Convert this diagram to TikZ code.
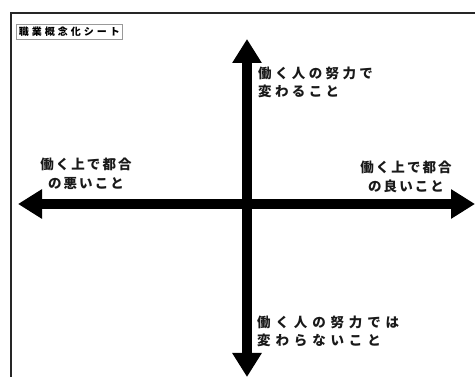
\documentclass[tikz,border=0pt]{standalone}
\usepackage{fontspec}
\newfontfamily\jpside[LetterSpace=15]{Noto Sans CJK JP}
\newfontfamily\jptop[LetterSpace=25]{Noto Sans CJK JP}
\newfontfamily\jpbot[LetterSpace=36]{Noto Sans CJK JP}
\newfontfamily\jpt[LetterSpace=30]{Noto Sans CJK JP}
\usetikzlibrary{arrows.meta}
\tikzset{
  axis/.style={line width=10pt, draw=black,
    {Triangle[width=28pt,length=24pt]}-{Triangle[width=28pt,length=24pt]}},
  lbl/.style={inner sep=0pt, text=black!90},
  titlebox/.style={draw=black!40, line width=0.6pt, font=\jpt\fontsize{10}{11}\selectfont\bfseries, inner xsep=2.5pt, inner ysep=2.5pt},
  frame/.style={draw=black!85, line width=2pt}
}
\begin{document}
\begin{tikzpicture}[x=1pt,y=-1pt]
\useasboundingbox (0,0) rectangle (475,377);
\fill[white] (0,0) rectangle (475,377);
\coordinate (ftl) at (11,13);
\coordinate (ftr) at (480,13);
\coordinate (fbl) at (11,385);
\draw[frame] (ftr) -- (ftl) -- (fbl);
\node[titlebox, anchor=west] (title) at (16,32) {職業概念化シート};
\coordinate (top) at (247,39);
\coordinate (bot) at (247,377);
\coordinate (lft) at (18,204);
\coordinate (rgt) at (475,204);
\draw[axis] (bot) -- (top);
\draw[axis] (lft) -- (rgt);
\node[lbl, font=\jptop\fontsize{13.5}{17.5}\selectfont\bfseries, anchor=north west, align=left] (up) at (258,67) {働く人の努力で\\変わること};
\node[lbl, font=\jpbot\fontsize{13.5}{18}\selectfont\bfseries, anchor=north west, align=left] (down) at (257,316) {働く人の努力では\\変わらないこと};
\node[lbl, font=\jpside\fontsize{13.5}{18.5}\selectfont\bfseries, anchor=north, align=center] (left) at (86,158) {働く上で都合\\の悪いこと};
\node[lbl, font=\jpside\fontsize{13.5}{18.5}\selectfont\bfseries, anchor=north, align=center] (right) at (406,161) {働く上で都合\\の良いこと};
\end{tikzpicture}
\end{document}
